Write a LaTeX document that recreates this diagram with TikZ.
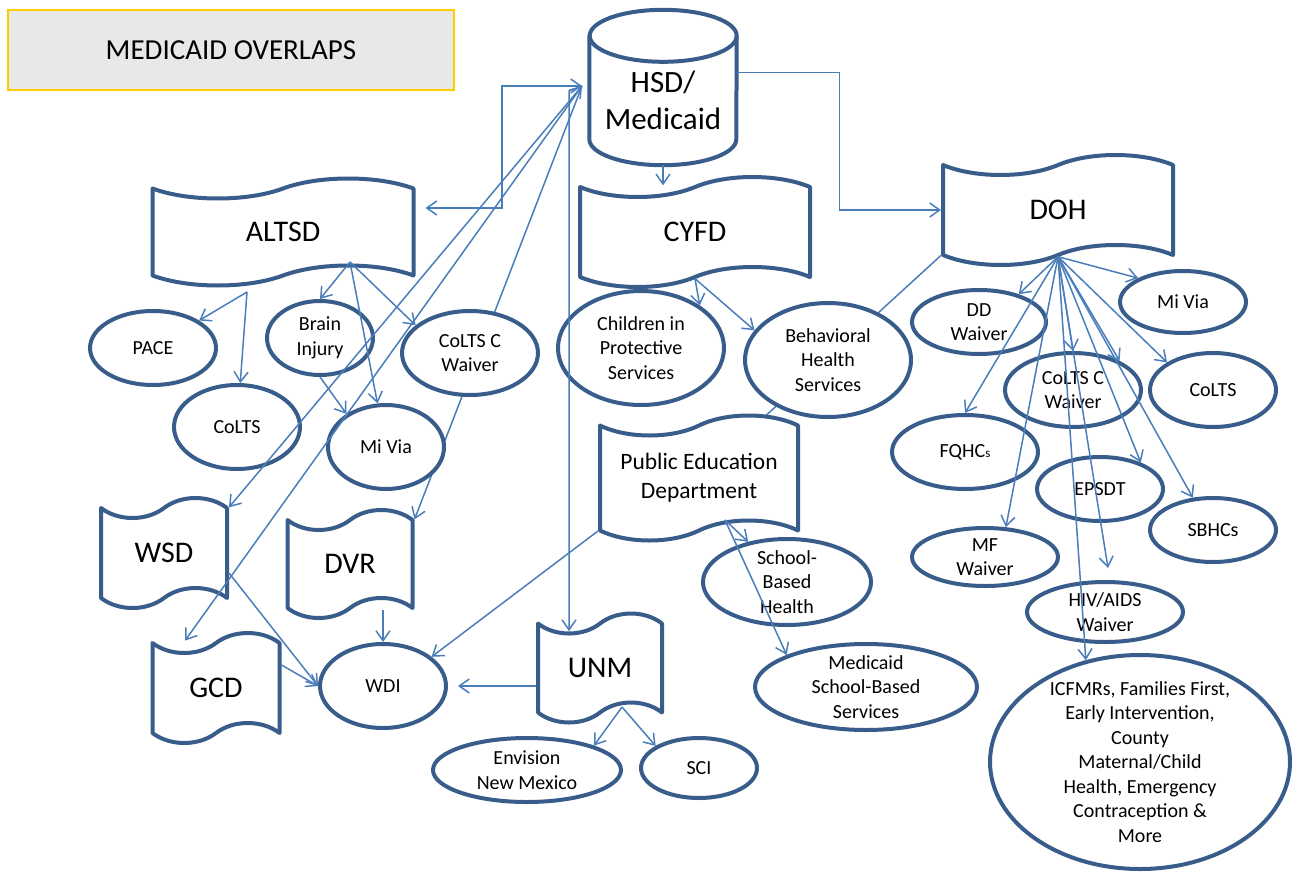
\documentclass[tikz,border=0pt]{standalone}
\usepackage{fontspec}
\setmainfont{Carlito}
\usetikzlibrary{shapes.geometric,shapes.symbols,arrows.meta,backgrounds}

\definecolor{shapeblue}{RGB}{56,93,138}
\definecolor{lineblue}{RGB}{74,126,187}
\definecolor{titlegray}{RGB}{232,232,232}
\definecolor{titlegold}{RGB}{255,204,0}

\begin{document}
\begin{tikzpicture}[x=1pt,y=-1pt,
  outline/.style={draw=shapeblue,line width=4pt,line join=round,fill=white},
  banner/.style={tape,outline,inner sep=0pt,tape bend height=20pt,font=\fontsize{30}{36}\selectfont},
  oval/.style={ellipse,outline,inner sep=0pt},
  txt/.style={align=center,inner sep=0pt,font=\fontsize{20}{24.5}\selectfont},
  link/.style={draw=lineblue,line width=1.5pt,-{Straight Barb[length=10pt,width=14pt]}},
  twoway/.style={link,{Straight Barb[length=10pt,width=14pt]}-{Straight Barb[length=10pt,width=14pt]}}]

  \useasboundingbox (0,0) rectangle (1297,872);

  % Title box
  \node[draw=titlegold,line width=2.5pt,fill=titlegray,minimum width=446pt,minimum height=80pt,
    font=\fontsize{29}{34}\selectfont] (title) at (231,50) {MEDICAID OVERLAPS};

  % HSD drum (outline sits behind its text)
  \node[minimum width=147pt,minimum height=155pt,inner sep=0pt,
    label={[align=center,yshift=-13pt,font=\fontsize{31}{37}\selectfont]center:{HSD/\\Medicaid}}] (hsd) at (663,87.5) {};
  \begin{pgfonlayer}{background}
    \draw[outline] ([yshift=-26pt]hsd.north west) -- ([yshift=26pt]hsd.south west)
      arc[start angle=180,end angle=360,x radius=73.5pt,y radius=26pt]
      -- ([yshift=-26pt]hsd.north east)
      arc[start angle=0,end angle=180,x radius=73.5pt,y radius=26pt] -- cycle;
    \draw[outline,fill=none] ([yshift=-26pt]hsd.north east)
      arc[start angle=0,end angle=-180,x radius=73.5pt,y radius=26pt];
  \end{pgfonlayer}

  % Agencies
  \node[banner,minimum width=261pt,minimum height=107pt] (altsd) at (283,232) {ALTSD};
  \node[banner,minimum width=230pt,minimum height=110pt] (cyfd) at (695,232) {CYFD};
  \node[banner,minimum width=230pt,minimum height=110pt] (doh) at (1058,210) {DOH};
  \node[banner,minimum width=126pt,minimum height=110pt] (wsd) at (164,553) {WSD};
  \node[banner,minimum width=125pt,minimum height=108pt] (dvr) at (350,564) {DVR};
  \node[banner,minimum width=127pt,minimum height=110pt] (gcd) at (216,688) {GCD};
  \node[banner,minimum width=124pt,minimum height=109pt] (unm) at (600,668) {UNM};
  \node[banner,minimum width=198pt,minimum height=125pt,align=center,
    font=\fontsize{23.5}{29}\selectfont] (ped) at (699,478) {Public Education\\Department};

  % ALTSD programs
  \node[oval,minimum width=126pt,minimum height=74pt,label={[txt]center:PACE}] (pace) at (153,348) {};
  \node[oval,minimum width=106pt,minimum height=74pt,label={[txt]center:{Brain\\Injury}}] (brain) at (320,338) {};
  \node[oval,minimum width=136pt,minimum height=84pt,label={[txt]center:{CoLTS C\\Waiver}}] (ccwA) at (470,353) {};
  \node[oval,minimum width=126pt,minimum height=84pt,label={[txt]center:CoLTS}] (coltsA) at (237,427) {};
  \node[oval,minimum width=116pt,minimum height=84pt,label={[txt]center:Mi Via}] (miviaA) at (386,447) {};

  % CYFD programs
  \node[oval,minimum width=166pt,minimum height=114pt,label={[txt]center:{Children in\\Protective\\Services}}] (cps) at (641,348) {};
  \node[oval,minimum width=166pt,minimum height=114pt,label={[txt]center:{Behavioral\\Health\\Services}}] (bhs) at (828,360) {};

  % DOH programs
  \node[oval,minimum width=134pt,minimum height=64pt,label={[txt]center:{DD\\Waiver}}] (dd) at (979,322) {};
  \node[oval,minimum width=126pt,minimum height=62pt,label={[txt]center:Mi Via}] (miviaB) at (1183,302) {};
  \node[oval,minimum width=136pt,minimum height=74pt,label={[txt]center:{CoLTS C\\Waiver}}] (ccwB) at (1073,390) {};
  \node[oval,minimum width=126pt,minimum height=74pt,label={[txt]center:CoLTS}] (coltsB) at (1213,390) {};
  \node[oval,minimum width=146pt,minimum height=74pt,
    label={[txt]center:{FQHC{\fontsize{13}{15}\selectfont s}}}] (fqhc) at (965,452) {};
  \node[oval,minimum width=126pt,minimum height=64pt,label={[txt]center:EPSDT}] (epsdt) at (1100,489) {};
  \node[oval,minimum width=126pt,minimum height=64pt,label={[txt]center:SBHCs}] (sbhc) at (1213,530) {};
  \node[oval,minimum width=146pt,minimum height=58pt,label={[txt]center:{MF\\Waiver}}] (mf) at (985,557) {};
  \node[oval,minimum width=156pt,minimum height=60pt,label={[txt]center:{HIV/AIDS\\Waiver}}] (hiv) at (1105,612) {};
  \node[oval,minimum width=300pt,minimum height=214pt,
    label={[txt]center:{ICFMRs, Families First,\\Early Intervention,\\County\\Maternal/Child\\Health, Emergency\\Contraception \&\\More}}] (icf) at (1140,762) {};

  % Education, workforce and UNM programs
  \node[oval,minimum width=126pt,minimum height=84pt,label={[txt]center:WDI}] (wdi) at (383,686) {};
  \node[oval,minimum width=168pt,minimum height=86pt,label={[txt]center:{School-\\Based\\Health}}] (sbh) at (787,582) {};
  \node[oval,minimum width=222pt,minimum height=86pt,label={[txt]center:{Medicaid\\School-Based\\Services}}] (msbs) at (866,687) {};
  \node[oval,minimum width=188pt,minimum height=64pt,label={[txt]center:{Envision\\New Mexico}}] (env) at (527,770) {};
  \node[oval,minimum width=116pt,minimum height=60pt,label={[txt]center:SCI}] (sci) at (699,768) {};

  % Fan points on the banners
  \coordinate (hub) at (582,86);
  \coordinate (altfan) at (350,262);
  \coordinate (altfan2) at (247,292);
  \coordinate (pedfan) at (725,520);
  \coordinate (unmfan) at (622,707);

  % Lines hidden behind the shapes
  \begin{pgfonlayer}{background}
    \draw[link] (hub) -- (dvr.north east);
    \draw[link,-] (doh.south west) -- ([xshift=58pt]ped.north);
  \end{pgfonlayer}

  % HSD links
  \draw[twoway] (hub) -- ++(-80,0) |- ([xshift=10pt,yshift=24pt]altsd.east);
  \draw[link] ([yshift=15pt]hsd.east) -- ++(103,0) |- (doh.west);
  \draw[link] (hsd.south) -- (hsd.south |- cyfd.north);
  \draw[link] (hub) -- ++(-13,5) -- ([xshift=-31pt,yshift=-10pt]unm.north);
  \draw[twoway] (hub) -- (wsd.north east);
  \draw[link] (hub) -- ([xshift=-31pt]gcd.north);

  % ALTSD links
  \path (altfan2) edge[link] (pace) edge[link] (coltsA);
  \path (altfan) edge[link] (brain.north) edge[link] (miviaA) edge[link] (ccwA.153);
  \draw[link] (brain.south) -- (miviaA.140);

  % CYFD links
  \path (cyfd.south) edge[link] (cps.36) edge[link] (bhs.158);

  % DOH links
  \path (doh.south) edge[link] (dd.35) edge[link] (miviaB.152) edge[link] (coltsB.149)
    edge[link] (fqhc.north) edge[link] (mf.55) edge[link] (ccwB.north) edge[link] (ccwB.32)
    edge[link] (epsdt.33) edge[link] (sbhc.122) edge[link] (icf.118);
  \draw[link] (doh.south) -- ([xshift=3pt,yshift=12pt]hiv.north);

  % PED and UNM links
  \path (pedfan) edge[link] (sbh.134) edge[link] (msbs.158);
  \draw[link] (ped.south west) -- (wdi.31);
  \draw[link] (unm.west |- wdi.east) -- ([xshift=10pt]wdi.east);
  \path (unmfan) edge[link] (env.20) edge[link] (sci.153);

  % Into WDI
  \draw[link] (wdi.north |- dvr.south) -- (wdi.north);
  \draw[link] ([yshift=-20pt]wsd.east) -- (wdi.west);
  \draw[link] ([yshift=23pt]gcd.east) -- (wdi.west);
\end{tikzpicture}
\end{document}
